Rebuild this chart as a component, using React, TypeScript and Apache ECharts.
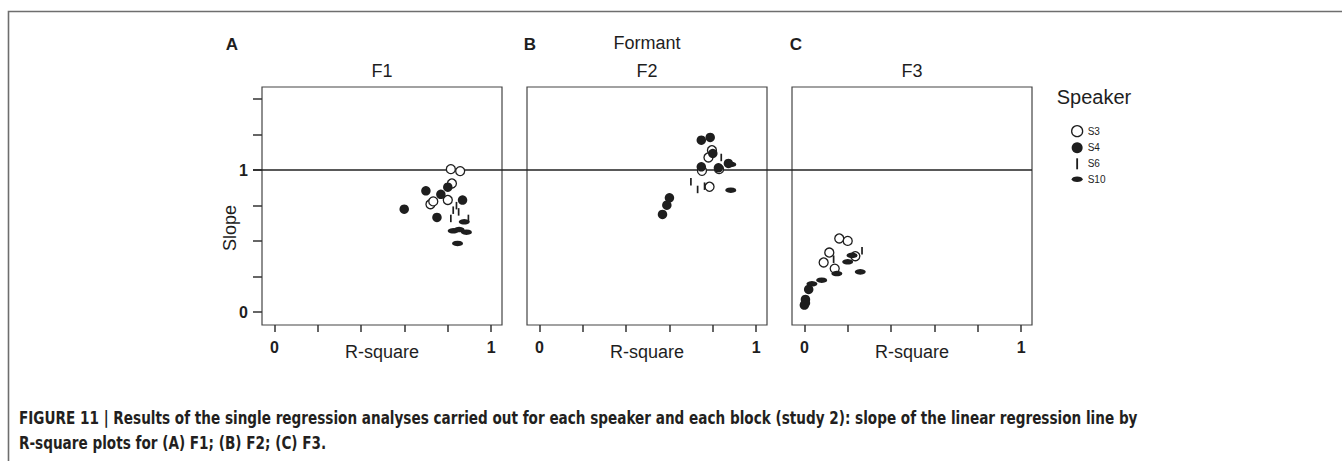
import React, { useEffect, useRef } from "react";
import * as echarts from "echarts";

// ---- data: [R-square, slope] per speaker and formant ----
const f1S3 = [[0.814, 1.007], [0.857, 0.993], [0.819, 0.906], [0.8, 0.79], [0.72, 0.76], [0.733, 0.78]];
const f1S4 = [[0.699, 0.854], [0.768, 0.83], [0.8, 0.88], [0.868, 0.789], [0.599, 0.725], [0.75, 0.667]];
const f1S6 = [[0.84, 0.75], [0.825, 0.718], [0.814, 0.66], [0.85, 0.706], [0.895, 0.66]];
const f1S10 = [[0.825, 0.573], [0.852, 0.582], [0.886, 0.563], [0.845, 0.484], [0.876, 0.636]];

const f2S3 = [[0.796, 1.14], [0.78, 1.089], [0.75, 0.995], [0.829, 1.007], [0.785, 0.883]];
const f2S4 = [[0.747, 1.211], [0.788, 1.23], [0.8, 1.117], [0.747, 1.023], [0.826, 1.016], [0.872, 1.047], [0.6, 0.805], [0.588, 0.753], [0.568, 0.688]];
const f2S6 = [[0.839, 1.089], [0.699, 0.918], [0.73, 0.864], [0.762, 0.887]];
const f2S10 = [[0.883, 0.859], [0.883, 1.04]];

const f3S3 = [[0.161, 0.519], [0.2, 0.502], [0.115, 0.42], [0.089, 0.35], [0.14, 0.307], [0.235, 0.394]];
const f3S4 = [[0.02, 0.16], [0.005, 0.09], [0.0, 0.05], [0.005, 0.065]];
const f3S6 = [[0.135, 0.373], [0.266, 0.432]];
const f3S10 = [[0.035, 0.2], [0.08, 0.225], [0.15, 0.272], [0.2, 0.355], [0.22, 0.4], [0.258, 0.284]];

const speakers = ["S3", "S4", "S6", "S10"];
const panelTitles = ["F1", "F2", "F3"];
const panelLetters = ["A", "B", "C"];
const xTicks = [0, 0.2, 0.4, 0.6, 0.8, 1];
const xTickLabels = [0, 1];
const yTicks = [0, 0.25, 0.5, 0.75, 1, 1.25, 1.5];
const yTickLabels = [0, 1];
const refLine = [[0, 1], [1, 1]];

const panelData = [
  [f1S3, f1S4, f1S6, f1S10],
  [f2S3, f2S4, f2S6, f2S10],
  [f3S3, f3S4, f3S6, f3S10],
];

const FONT = "'Liberation Sans', Arial, sans-serif";
const CAPTION_FONT = "'DejaVu Sans Condensed', 'Liberation Sans Narrow', sans-serif";
const INK = "#1e1e1e";

const xMin = -0.057;
const xMax = 1.05;
const yMin = -0.09;
const yMax = 1.585;

const gridLefts = [262, 527, 792];
const gridTop = 87;
const gridW = 240;
const gridH = 238;

const symbolFor = (sp: string) => {
  switch (sp) {
    case "S3":
      return { symbol: "circle", symbolSize: 9, itemStyle: { color: "#fff", borderColor: INK, borderWidth: 1.3, opacity: 1 } };
    case "S4":
      return { symbol: "circle", symbolSize: 9.5, itemStyle: { color: INK, opacity: 1 } };
    case "S6":
      return { symbol: "rect", symbolSize: [1.7, 7.5], itemStyle: { color: INK, opacity: 1 } };
    default:
      return { symbol: "circle", symbolSize: [11, 5.5], itemStyle: { color: INK, opacity: 1 } };
  }
};

export default function App() {
  const ref = useRef<HTMLDivElement>(null);

  useEffect(() => {
    if (!ref.current) return;
    const chart = echarts.init(ref.current, null, { renderer: "svg" });

    const grids: any[] = gridLefts.map((l) => ({
      left: l,
      top: gridTop,
      width: gridW,
      height: gridH,
      show: true,
      borderColor: "#444",
      borderWidth: 1.2,
      containLabel: false,
    }));
    grids.push({ left: 253, top: gridTop, width: gridLefts[2] + gridW - 253, height: gridH, show: false });

    const xAxes: any[] = gridLefts.map((_, i) => ({
      gridIndex: i,
      type: "value",
      position: "bottom",
      min: xMin,
      max: xMax,
      axisLine: { show: false, onZero: false },
      axisTick: { show: true, inside: false, customValues: xTicks, length: 7, lineStyle: { color: "#333", width: 1.5 } },
      axisLabel: { customValues: xTickLabels, margin: 14, fontSize: 16, fontWeight: "bold", color: INK, fontFamily: FONT },
      splitLine: { show: false },
      name: "R-square",
      nameLocation: "middle",
      nameGap: 18,
      nameMoveOverlap: false,
      nameTextStyle: { fontSize: 18, color: INK, fontFamily: FONT, verticalAlign: "top" },
    }));
    xAxes.push({ gridIndex: 3, type: "value", min: 0, max: 1, show: false });

    const yAxes: any[] = gridLefts.map((_, i) =>
      i === 0
        ? {
            gridIndex: 0,
            type: "value",
            position: "left",
            min: yMin,
            max: yMax,
            axisLine: { show: false, onZero: false },
            axisTick: { show: true, inside: false, customValues: yTicks, length: 9, lineStyle: { color: "#333", width: 1.5 } },
            axisLabel: { customValues: yTickLabels, margin: 14, fontSize: 16, fontWeight: "bold", color: INK, fontFamily: FONT },
            splitLine: { show: false },
          }
        : {
            gridIndex: i,
            type: "value",
            min: yMin,
            max: yMax,
            axisLine: { show: false, onZero: false },
            axisTick: { show: false },
            axisLabel: { show: false },
            splitLine: { show: false },
          }
    );
    yAxes.push({ gridIndex: 3, type: "value", min: yMin, max: yMax, show: false });

    const series: any[] = [];
    panelData.forEach((sets, p) => {
      sets.forEach((d, s) => {
        series.push({
          type: "scatter",
          name: speakers[s],
          xAxisIndex: p,
          yAxisIndex: p,
          data: d,
          symbolKeepAspect: true,
          ...symbolFor(speakers[s]),
        });
      });
    });
    series.push({
      type: "line",
      name: "ref",
      xAxisIndex: 3,
      yAxisIndex: 3,
      data: refLine,
      symbol: "none",
      lineStyle: { color: "#222", width: 1.5 },
      silent: true,
      z: 1,
    });

    const graphic: any[] = [
      {
        type: "rect",
        shape: { x: 8.5, y: 11.5, width: 2000, height: 1000 },
        style: { fill: "none", stroke: "#6e6e6e", lineWidth: 1.6 },
        silent: true,
      },
      {
        type: "text",
        x: 647,
        y: 43,
        style: { text: "Formant", font: `18px ${FONT}`, fill: INK, align: "center", verticalAlign: "middle" },
      },
      {
        type: "text",
        x: 1094,
        y: 97,
        style: { text: "Speaker", font: `20px ${FONT}`, fill: INK, align: "center", verticalAlign: "middle" },
      },
      {
        type: "text",
        x: 230,
        y: 228,
        rotation: Math.PI / 2,
        style: { text: "Slope", font: `18px ${FONT}`, fill: INK, align: "center", verticalAlign: "middle" },
      },
      {
        type: "text",
        x: 19,
        y: 418,
        scaleX: 0.84,
        style: {
          text: "FIGURE 11 | Results of the single regression analyses carried out for each speaker and each block (study 2): slope of the linear regression line by",
          font: `bold 18px ${CAPTION_FONT}`,
          fill: "#231f20",
          verticalAlign: "middle",
        },
      },
      {
        type: "text",
        x: 19,
        y: 443,
        scaleX: 0.84,
        style: {
          text: "R-square plots for (A) F1; (B) F2; (C) F3.",
          font: `bold 18px ${CAPTION_FONT}`,
          fill: "#231f20",
          verticalAlign: "middle",
        },
      },
    ];
    const letterX = [232, 530, 796];
    panelLetters.forEach((t, i) =>
      graphic.push({
        type: "text",
        x: letterX[i],
        y: 44,
        style: { text: t, font: `bold 17px ${FONT}`, fill: INK, align: "center", verticalAlign: "middle" },
      })
    );
    panelTitles.forEach((t, i) =>
      graphic.push({
        type: "text",
        x: gridLefts[i] + gridW / 2,
        y: 71,
        style: { text: t, font: `18px ${FONT}`, fill: INK, align: "center", verticalAlign: "middle" },
      })
    );

    chart.setOption({
      animation: false,
      backgroundColor: "#fff",
      textStyle: { fontFamily: FONT },
      grid: grids,
      xAxis: xAxes,
      yAxis: yAxes,
      series,
      legend: {
        orient: "vertical",
        left: 1071,
        top: 125,
        padding: 0,
        itemWidth: 11,
        itemHeight: 11,
        itemGap: 5,
        selectedMode: false,
        textStyle: { fontSize: 10, color: INK, fontFamily: FONT },
        data: [
          { name: "S3", icon: "circle", itemStyle: { color: "#fff", borderColor: INK, borderWidth: 1.3, opacity: 1 } },
          { name: "S4", icon: "circle", itemStyle: { color: INK, opacity: 1 } },
          { name: "S6", icon: "path://M0,0 L2,0 L2,12 L0,12 Z", itemStyle: { color: INK, opacity: 1 } },
          { name: "S10", icon: "path://M0,5 A10,5 0 1 0 20,5 A10,5 0 1 0 0,5 Z", itemStyle: { color: INK, opacity: 1 } },
        ],
      },
      graphic,
    });

    return () => chart.dispose();
  }, []);

  return (
    <div
      ref={ref}
      style={{ position: "fixed", left: 0, top: 0, width: 1342, height: 461, background: "#fff" }}
    />
  );
}
